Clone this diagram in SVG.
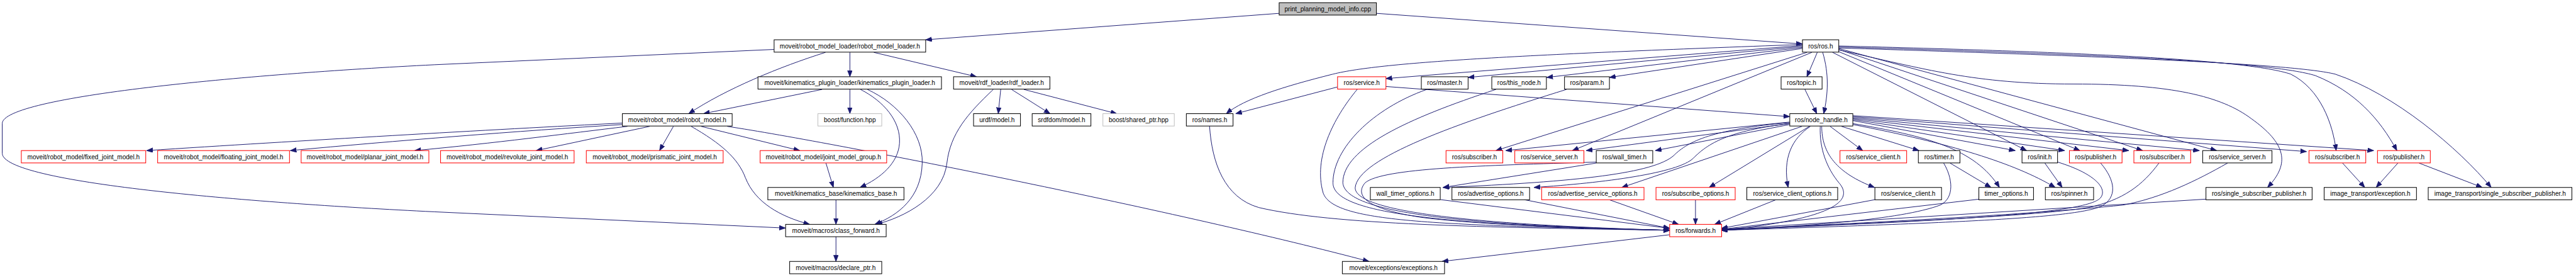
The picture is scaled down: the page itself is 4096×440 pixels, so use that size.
<svg xmlns="http://www.w3.org/2000/svg" width="4096" height="440" viewBox="0 0 4096 440">
<style>
.e{fill:none;stroke:#191970;stroke-width:1.25;marker-end:url(#a)}
.n rect{fill:#fff;stroke:#000;stroke-width:1.3}
.r rect{stroke:#ff0000}
.g rect{stroke:#bfbfbf}
.root rect{fill:#bfbfbf}
text{font-family:"Liberation Sans",Arial,Helvetica,sans-serif;font-size:12.9px;fill:#000;text-anchor:middle}
</style>
<defs>
<marker id="a" markerUnits="userSpaceOnUse" markerWidth="13" markerHeight="10" refX="12.5" refY="4.75" orient="auto">
<path d="M0,0 L12.5,4.75 L0,9.5 z" fill="#191970" stroke="#191970" stroke-width="1"/>
</marker>
</defs>
<rect width="4096" height="440" fill="#fff"/>
<g transform="scale(0.785)">
<g id="edges">
<path class="e" d="M2591,27 L1875,80.5"/>
<path class="e" d="M2788,27 L3651,89"/>
<path class="e" d="M1672,106 C1580,135 1470,180 1395,230"/>
<path class="e" d="M1721.5,106 L1721.5,155.3"/>
<path class="e" d="M1770,106 L1978,155.3"/>
<path class="e" d="M1568,100 L880,131 C500,150 4.5,195 4.5,250 L4.5,310 C4.5,370 500,410 880,428.6 L1591,461.5"/>
<path class="e" d="M1665,181 L1425,230"/>
<path class="e" d="M1721.5,181 L1721.5,230"/>
<path class="e" d="M1743,181 C1790,205 1825,245 1822,290 C1819,330 1785,360 1742,379.3"/>
<path class="e" d="M1757,181 C1820,210 1870,270 1868,330 C1866,400 1820,435 1772,454"/>
<path class="e" d="M2012,181 C1960,230 1925,270 1918,330 C1910,400 1830,440 1775,454"/>
<path class="e" d="M2027,181 L2022,230"/>
<path class="e" d="M2049,181 L2127,230"/>
<path class="e" d="M2074,181 L2262,230"/>
<path class="e" d="M1260.6,249 C1000,262 600,285 297,304.7"/>
<path class="e" d="M1260.6,252 C1050,265 800,285 588,304.7"/>
<path class="e" d="M1271,255.7 C1150,270 1000,290 840,304.7"/>
<path class="e" d="M1316,255.7 L1086,304.7"/>
<path class="e" d="M1364,255.7 L1336,304.7"/>
<path class="e" d="M1400,255.7 C1460,290 1495,320 1510,360 C1530,410 1580,438 1640,454"/>
<path class="e" d="M1420,255.7 L1620,304.7"/>
<path class="e" d="M1473,255.7 C1700,290 2400,430 2773,529"/>
<path class="e" d="M1673,330 L1688,379.3"/>
<path class="e" d="M1693.3,404.3 L1693.3,454"/>
<path class="e" d="M1693.3,479 L1693.3,529"/>
<path class="e" d="M3651,92 L2807.3,159"/>
<path class="e" d="M3651,94 L2973.7,156.7"/>
<path class="e" d="M3651,96 L3133,156.7"/>
<path class="e" d="M3651,98 L3260,156.7"/>
<path class="e" d="M3651,90 C3100,110 2800,125 2700,150 C2600,175 2520,200 2484,230"/>
<path class="e" d="M3660,106 L3030,304.7"/>
<path class="e" d="M3670,106 L3185,304.7"/>
<path class="e" d="M3681,106 L3660,155.3"/>
<path class="e" d="M3692,106 C3705,150 3703,190 3694,230"/>
<path class="e" d="M3656,181 L3680,230"/>
<path class="e" d="M3712,106 L4105,304.7"/>
<path class="e" d="M3723,104 L4213,304.7"/>
<path class="e" d="M3724,100 L4340,304.7"/>
<path class="e" d="M3724,98 L4490,304.7"/>
<path class="e" d="M3724.5,101 C3900,140 4000,170 4200,170 C4400,170 4500,195 4560,240 C4630,290 4640,330 4593,379.3"/>
<path class="e" d="M3724.5,93 C4200,105 4550,120 4640,150 C4700,180 4725,250 4732,304.7"/>
<path class="e" d="M3724.5,95 C4250,110 4600,125 4690,153 C4770,185 4820,240 4855,304.7"/>
<path class="e" d="M3724.5,97 C4300,115 4650,130 4730,150 C4850,190 4980,300 5046,379.3"/>
<path class="e" d="M3625,247 L3050,304.7"/>
<path class="e" d="M3625,250 L3213,304.7"/>
<path class="e" d="M3625,252 L3353,304.7"/>
<path class="e" d="M3625,248 C3470,262 3420,285 3390,315 C3350,350 3200,368 2923,379.3"/>
<path class="e" d="M3625,250 C3500,265 3460,290 3430,320 C3400,350 3250,370 3107,379.3"/>
<path class="e" d="M3650,255.7 L3285,379.3"/>
<path class="e" d="M3665,255.7 L3462,379.3"/>
<path class="e" d="M3667,255.7 C3630,280 3610,320 3622,379.3"/>
<path class="e" d="M3707,255.7 L3773,304.7"/>
<path class="e" d="M3730,255.7 L3887,304.7"/>
<path class="e" d="M3690,255.7 C3690,310 3720,350 3797,379.3"/>
<path class="e" d="M3687,255.7 C3685,300 3700,340 3725,370 C3760,410 3700,445 3487,466"/>
<path class="e" d="M3753,250 C3900,275 4000,300 4050,379.3"/>
<path class="e" d="M3753,252 C3950,290 4080,330 4163,379.3"/>
<path class="e" d="M3753,244 L4082,304.7"/>
<path class="e" d="M3753,242 L4182,304.7"/>
<path class="e" d="M3753,240 L4312,304.7"/>
<path class="e" d="M3753,238 L4455,304.7"/>
<path class="e" d="M3753,236 L4672,306.7"/>
<path class="e" d="M3753,234 L4808,304.7"/>
<path class="e" d="M2709,176 L2503,230"/>
<path class="e" d="M2807,175 L3625,236"/>
<path class="e" d="M2749,181 C2700,240 2660,320 2680,390 C2700,450 2900,455 3382,466"/>
<path class="e" d="M2890,181 C2780,220 2700,300 2700,370 C2700,430 2900,455 3382,466"/>
<path class="e" d="M3030,181 C2850,240 2720,300 2720,370 C2725,430 2950,455 3382,466"/>
<path class="e" d="M3173,181 C2950,250 2750,320 2745,380 C2745,430 3000,455 3382,466"/>
<path class="e" d="M2450,255 C2455,330 2480,400 2550,420 C2700,455 3000,460 3382,466"/>
<path class="e" d="M3233,328 C3000,335 2800,340 2765,370 C2740,400 2780,425 2880,440 C3000,455 3200,462 3382,466"/>
<path class="e" d="M3233,330 L2923,379.3"/>
<path class="e" d="M2918,404 L3382,462"/>
<path class="e" d="M3087,404 L3382,462"/>
<path class="e" d="M3260,404.3 L3400,454"/>
<path class="e" d="M3434.3,404.3 L3434.3,454"/>
<path class="e" d="M3597,404.3 L3473,454"/>
<path class="e" d="M3798,404 L3487,462"/>
<path class="e" d="M3937,330 C3955,360 3960,400 3930,415 C3850,445 3650,458 3487,466"/>
<path class="e" d="M3950,330 L4033,379.3"/>
<path class="e" d="M4009,403 L3487,464"/>
<path class="e" d="M4168,328 C4240,350 4270,380 4255,400 C4230,430 4000,445 3487,465"/>
<path class="e" d="M4142,330 L4177,379.3"/>
<path class="e" d="M4255,330 C4285,365 4290,400 4255,418 C4200,440 4000,450 3487,466"/>
<path class="e" d="M4373,330 C4340,375 4300,405 4230,420 C4100,440 3800,450 3487,466"/>
<path class="e" d="M4512,330 C4450,365 4380,400 4300,415 C4100,435 3800,450 3487,465"/>
<path class="e" d="M4468,403 L3487,464"/>
<path class="e" d="M3382,475 L2921,529"/>
<path class="e" d="M4745,330 L4790,379.3"/>
<path class="e" d="M4857,330 L4813,379.3"/>
<path class="e" d="M4900,330 L5028,379.3"/>
</g>
<g id="n0" class="n root"><rect x="2591" y="5.5" width="197" height="25"/><text x="2689.5" y="22.5">print_planning_model_info.cpp</text></g>
<g id="n1" class="n"><rect x="1568" y="80.5" width="307" height="25"/><text x="1721.5" y="97.5">moveit/robot_model_loader/robot_model_loader.h</text></g>
<g id="n2" class="n"><rect x="3651" y="80.5" width="73.5" height="25"/><text x="3687.7" y="97.5">ros/ros.h</text></g>
<g id="n3" class="n"><rect x="1535.3" y="155.3" width="371.7" height="25"/><text x="1721.2" y="172.3">moveit/kinematics_plugin_loader/kinematics_plugin_loader.h</text></g>
<g id="n4" class="n"><rect x="1931.5" y="155.3" width="195.1" height="25"/><text x="2029" y="172.3">moveit/rdf_loader/rdf_loader.h</text></g>
<g id="n5" class="n r"><rect x="2709.3" y="155.3" width="98" height="25"/><text x="2758.3" y="172.3">ros/service.h</text></g>
<g id="n6" class="n"><rect x="2879" y="155.3" width="94.7" height="25"/><text x="2926.3" y="172.3">ros/master.h</text></g>
<g id="n7" class="n"><rect x="3021.7" y="155.3" width="110.6" height="25"/><text x="3077" y="172.3">ros/this_node.h</text></g>
<g id="n8" class="n"><rect x="3169" y="155.3" width="91" height="25"/><text x="3214.5" y="172.3">ros/param.h</text></g>
<g id="n9" class="n"><rect x="3607.7" y="155.3" width="83" height="25"/><text x="3649.2" y="172.3">ros/topic.h</text></g>
<g id="n10" class="n"><rect x="1260.6" y="230" width="222.4" height="25"/><text x="1371.8" y="247">moveit/robot_model/robot_model.h</text></g>
<g id="n11" class="n g"><rect x="1656.7" y="230" width="129.3" height="25"/><text x="1721.3" y="247">boost/function.hpp</text></g>
<g id="n12" class="n"><rect x="1972" y="230" width="95" height="25"/><text x="2019.5" y="247">urdf/model.h</text></g>
<g id="n13" class="n"><rect x="2090.7" y="230" width="119" height="25"/><text x="2150.2" y="247">srdfdom/model.h</text></g>
<g id="n14" class="n g"><rect x="2234" y="230" width="144.6" height="25"/><text x="2306.3" y="247">boost/shared_ptr.hpp</text></g>
<g id="n15" class="n"><rect x="2403" y="230" width="94.6" height="25"/><text x="2450.3" y="247">ros/names.h</text></g>
<g id="n16" class="n"><rect x="3625.3" y="230" width="127.7" height="25"/><text x="3689.1" y="247">ros/node_handle.h</text></g>
<g id="n17" class="n r"><rect x="43.2" y="304.7" width="252" height="25"/><text x="169.2" y="321.7">moveit/robot_model/fixed_joint_model.h</text></g>
<g id="n18" class="n r"><rect x="319.3" y="304.7" width="267.1" height="25"/><text x="452.8" y="321.7">moveit/robot_model/floating_joint_model.h</text></g>
<g id="n19" class="n r"><rect x="610" y="304.7" width="258.7" height="25"/><text x="739.3" y="321.7">moveit/robot_model/planar_joint_model.h</text></g>
<g id="n20" class="n r"><rect x="892.4" y="304.7" width="270.5" height="25"/><text x="1027.6" y="321.7">moveit/robot_model/revolute_joint_model.h</text></g>
<g id="n21" class="n r"><rect x="1187.6" y="304.7" width="277.2" height="25"/><text x="1326.2" y="321.7">moveit/robot_model/prismatic_joint_model.h</text></g>
<g id="n22" class="n r"><rect x="1539.7" y="304.7" width="256.3" height="25"/><text x="1667.8" y="321.7">moveit/robot_model/joint_model_group.h</text></g>
<g id="n23" class="n r"><rect x="2929" y="304.7" width="115" height="25"/><text x="2986.5" y="321.7">ros/subscriber.h</text></g>
<g id="n24" class="n r"><rect x="3068.3" y="304.7" width="140" height="25"/><text x="3138.3" y="321.7">ros/service_server.h</text></g>
<g id="n25" class="n"><rect x="3233.3" y="304.7" width="114.4" height="25"/><text x="3290.5" y="321.7">ros/wall_timer.h</text></g>
<g id="n26" class="n r"><rect x="3727" y="304.7" width="135" height="25"/><text x="3794.5" y="321.7">ros/service_client.h</text></g>
<g id="n27" class="n"><rect x="3885.7" y="304.7" width="84.3" height="25"/><text x="3927.8" y="321.7">ros/timer.h</text></g>
<g id="n28" class="n"><rect x="4095.7" y="304.7" width="72" height="25"/><text x="4131.7" y="321.7">ros/init.h</text></g>
<g id="n29" class="n r"><rect x="4191.7" y="304.7" width="106.6" height="25"/><text x="4245" y="321.7">ros/publisher.h</text></g>
<g id="n30" class="n r"><rect x="4322.3" y="304.7" width="115" height="25"/><text x="4379.8" y="321.7">ros/subscriber.h</text></g>
<g id="n31" class="n"><rect x="4461.7" y="304.7" width="140.3" height="25"/><text x="4531.8" y="321.7">ros/service_server.h</text></g>
<g id="n32" class="n r"><rect x="4677" y="304.7" width="115" height="25"/><text x="4734.5" y="321.7">ros/subscriber.h</text></g>
<g id="n33" class="n r"><rect x="4815.7" y="304.7" width="107" height="25"/><text x="4869.2" y="321.7">ros/publisher.h</text></g>
<g id="n34" class="n"><rect x="1555.3" y="379.3" width="275.7" height="25"/><text x="1693.2" y="396.3">moveit/kinematics_base/kinematics_base.h</text></g>
<g id="n35" class="n"><rect x="2775.7" y="379.3" width="141.6" height="25"/><text x="2846.5" y="396.3">wall_timer_options.h</text></g>
<g id="n36" class="n"><rect x="2941" y="379.3" width="157.3" height="25"/><text x="3019.7" y="396.3">ros/advertise_options.h</text></g>
<g id="n37" class="n r"><rect x="3122.7" y="379.3" width="207.3" height="25"/><text x="3226.3" y="396.3">ros/advertise_service_options.h</text></g>
<g id="n38" class="n r"><rect x="3354.3" y="379.3" width="160.4" height="25"/><text x="3434.5" y="396.3">ros/subscribe_options.h</text></g>
<g id="n39" class="n"><rect x="3538.3" y="379.3" width="184" height="25"/><text x="3630.3" y="396.3">ros/service_client_options.h</text></g>
<g id="n40" class="n"><rect x="3797.7" y="379.3" width="135" height="25"/><text x="3865.2" y="396.3">ros/service_client.h</text></g>
<g id="n41" class="n"><rect x="4008.3" y="379.3" width="110.7" height="25"/><text x="4063.7" y="396.3">timer_options.h</text></g>
<g id="n42" class="n"><rect x="4143" y="379.3" width="97.7" height="25"/><text x="4191.8" y="396.3">ros/spinner.h</text></g>
<g id="n43" class="n"><rect x="4468.3" y="379.3" width="215" height="25"/><text x="4575.8" y="396.3">ros/single_subscriber_publisher.h</text></g>
<g id="n44" class="n"><rect x="4707.7" y="379.3" width="187" height="25"/><text x="4801.2" y="396.3">image_transport/exception.h</text></g>
<g id="n45" class="n"><rect x="4918.5" y="379.3" width="291" height="25"/><text x="5064" y="396.3">image_transport/single_subscriber_publisher.h</text></g>
<g id="n46" class="n"><rect x="1591.3" y="454" width="203.7" height="25"/><text x="1693.2" y="471">moveit/macros/class_forward.h</text></g>
<g id="n47" class="n r"><rect x="3382" y="454" width="105.3" height="25"/><text x="3434.6" y="471">ros/forwards.h</text></g>
<g id="n48" class="n"><rect x="1599.5" y="529" width="186.5" height="25"/><text x="1692.7" y="546">moveit/macros/declare_ptr.h</text></g>
<g id="n49" class="n"><rect x="2719" y="529" width="207" height="25"/><text x="2822.5" y="546">moveit/exceptions/exceptions.h</text></g>
</g>
</svg>
